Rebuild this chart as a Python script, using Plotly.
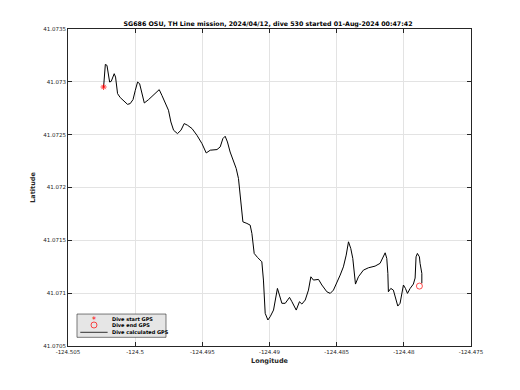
import plotly.graph_objects as go

title_text = "SG686 OSU, TH Line mission, 2024/04/12, dive 530 started 01-Aug-2024 00:47:42"

# Dive calculated GPS track
track_lon = [-124.50235, -124.50222, -124.50210, -124.50190, -124.50178, -124.50156, -124.50146,
             -124.50131, -124.50111, -124.50086, -124.50057, -124.50037, -124.50016, -124.49999,
             -124.49982, -124.49967, -124.49949, -124.49932, -124.49900, -124.49863, -124.49821,
             -124.49801, -124.49769, -124.49752, -124.49734, -124.49714, -124.49685, -124.49659,
             -124.49635, -124.49610, -124.49577, -124.49540, -124.49503, -124.49471, -124.49441,
             -124.49391, -124.49367, -124.49347, -124.49330, -124.49313, -124.49293, -124.49272,
             -124.49248, -124.49231, -124.49218, -124.49198, -124.49168, -124.49144, -124.49131,
             -124.49114, -124.49089, -124.49057, -124.49045, -124.49032, -124.49012, -124.48995,
             -124.48970, -124.48950, -124.48941, -124.48926, -124.48908, -124.48883, -124.48851,
             -124.48833, -124.48801, -124.48777, -124.48759, -124.48734, -124.48710, -124.48692,
             -124.48673, -124.48635, -124.48610, -124.48573, -124.48548, -124.48524, -124.48499,
             -124.48474, -124.48450, -124.48429, -124.48412, -124.48395, -124.48380, -124.48370,
             -124.48360, -124.48338, -124.48301, -124.48264, -124.48214, -124.48177, -124.48156,
             -124.48139, -124.48127, -124.48119, -124.48115, -124.48097, -124.48078, -124.48063,
             -124.48045, -124.48028, -124.48015, -124.48003, -124.47988, -124.47973, -124.47953,
             -124.47929, -124.47916, -124.47909, -124.47899, -124.47884, -124.47879, -124.47866,
             -124.47866]
track_lat = [41.072951, 41.073165, 41.073156, 41.072998, 41.073005, 41.073077, 41.073045,
             41.072888, 41.072851, 41.072825, 41.072787, 41.072794, 41.072832, 41.072920,
             41.072998, 41.072983, 41.072888, 41.072800, 41.072832, 41.072872, 41.072926,
             41.072872, 41.072778, 41.072731, 41.072620, 41.072542, 41.072510, 41.072542,
             41.072605, 41.072589, 41.072558, 41.072494, 41.072416, 41.072327, 41.072353,
             41.072359, 41.072384, 41.072463, 41.072485, 41.072431, 41.072336, 41.072258,
             41.072180, 41.072085, 41.071911, 41.071675, 41.071660, 41.071644, 41.071565,
             41.071376, 41.071338, 41.071297, 41.071124, 41.070809, 41.070746, 41.070777,
             41.070840, 41.070998, 41.071045, 41.070982, 41.070904, 41.070904, 41.070960,
             41.070919, 41.070840, 41.070919, 41.070897, 41.070935, 41.071029, 41.071155,
             41.071124, 41.071130, 41.071077, 41.071013, 41.070998, 41.071029, 41.071093,
             41.071171, 41.071249, 41.071360, 41.071486, 41.071423, 41.071329, 41.071187,
             41.071086, 41.071155, 41.071218, 41.071240, 41.071256, 41.071282, 41.071338,
             41.071382, 41.071329, 41.071187, 41.071013, 41.071045, 41.071029, 41.070966,
             41.070878, 41.070904, 41.070998, 41.071077, 41.071045, 41.070998, 41.071045,
             41.071086, 41.071143, 41.071344, 41.071376, 41.071344, 41.071282, 41.071187,
             41.071093]

start_lon = [-124.50235]
start_lat = [41.072951]
end_lon = [-124.47884]
end_lat = [41.071067]

legend_labels = ["Dive start GPS", "Dive end GPS", "Dive calculated GPS"]

x_ticks = [-124.505, -124.5, -124.495, -124.49, -124.485, -124.48, -124.475]
x_ticktext = ["-124.505", "-124.5", "-124.495", "-124.49", "-124.485", "-124.48", "-124.475"]
y_ticks = [41.0705, 41.071, 41.0715, 41.072, 41.0725, 41.073, 41.0735]
y_ticktext = ["41.0705", "41.071", "41.0715", "41.072", "41.0725", "41.073", "41.0735"]

FONT = "DejaVu Sans"
AX = "#262626"
fig = go.Figure()
fig.add_trace(go.Scatter(x=track_lon, y=track_lat, mode="lines", name=legend_labels[2],
                         line=dict(color="black", width=1), showlegend=False))
fig.add_trace(go.Scatter(x=start_lon, y=start_lat, mode="markers", name=legend_labels[0],
                         marker=dict(symbol="asterisk-open", size=5, color="red",
                                     line=dict(color="red", width=0.8)), showlegend=False))
fig.add_trace(go.Scatter(x=end_lon, y=end_lat, mode="markers", name=legend_labels[1],
                         marker=dict(symbol="circle-open", size=6, color="red",
                                     line=dict(color="red", width=0.7)), showlegend=False))

axis_common = dict(showline=True, linecolor=AX, linewidth=1, mirror="ticks",
                   ticks="inside", ticklen=4, tickcolor=AX, automargin=False,
                   showgrid=True, gridcolor="#e3e3e3", gridwidth=1, zeroline=False,
                   tickfont=dict(family=FONT, size=5.5, color=AX))

# Compact legend box (paper coordinates)
shapes = [
    dict(type="rect", xref="paper", yref="paper", x0=0.0223, x1=0.2432, y0=0.0274, y1=0.1008,
         fillcolor="#e6e6e6", line=dict(color=AX, width=0.6), layer="above"),
    dict(type="circle", xref="paper", yref="paper", xsizemode="pixel", ysizemode="pixel",
         xanchor=0.0645, yanchor=0.0662, x0=-3, x1=3, y0=-3, y1=3,
         line=dict(color="red", width=0.7), layer="above"),
    dict(type="line", xref="paper", yref="paper", x0=0.0305, x1=0.0983, y0=0.0432, y1=0.0432,
         line=dict(color="black", width=0.8), layer="above"),
]
annotations = [
    dict(text="*", xref="paper", yref="paper", x=0.0645, y=0.0851, showarrow=False,
         xanchor="center", yanchor="middle", yshift=-1.5,
         font=dict(family=FONT, size=8, color="red")),
]
for lbl, yy in zip(legend_labels, [0.0851, 0.0662, 0.0432]):
    annotations.append(dict(text="<b>" + lbl + "</b>", xref="paper", yref="paper", x=0.105, y=yy,
                            showarrow=False, xanchor="left", yanchor="middle",
                            font=dict(family=FONT, size=5, color="black")))

# The page body adds an 8px margin, so the figure is sized to fill the window exactly.
W, H = 504, 374
fig.update_layout(
    width=W, height=H,
    margin=dict(l=60, r=41, t=21, b=36),
    paper_bgcolor="white", plot_bgcolor="white",
    title=dict(text="<b>" + title_text + "</b>", x=260 / W, xanchor="center",
               y=1 - 16 / H, yanchor="middle",
               font=dict(family=FONT, size=6.3, color="black")),
    xaxis=dict(range=[-124.505, -124.475], tickvals=x_ticks, ticktext=x_ticktext,
               title=dict(text="<b>Longitude</b>", font=dict(family=FONT, size=6.5, color=AX),
                          standoff=4), **axis_common),
    yaxis=dict(range=[41.0705, 41.0735], tickvals=y_ticks, ticktext=y_ticktext,
               title=dict(text="<b>Latitude</b>", font=dict(family=FONT, size=6.5, color=AX),
                          standoff=6), **axis_common),
    shapes=shapes, annotations=annotations,
    showlegend=False,
)

fig.write_html("out.html")
